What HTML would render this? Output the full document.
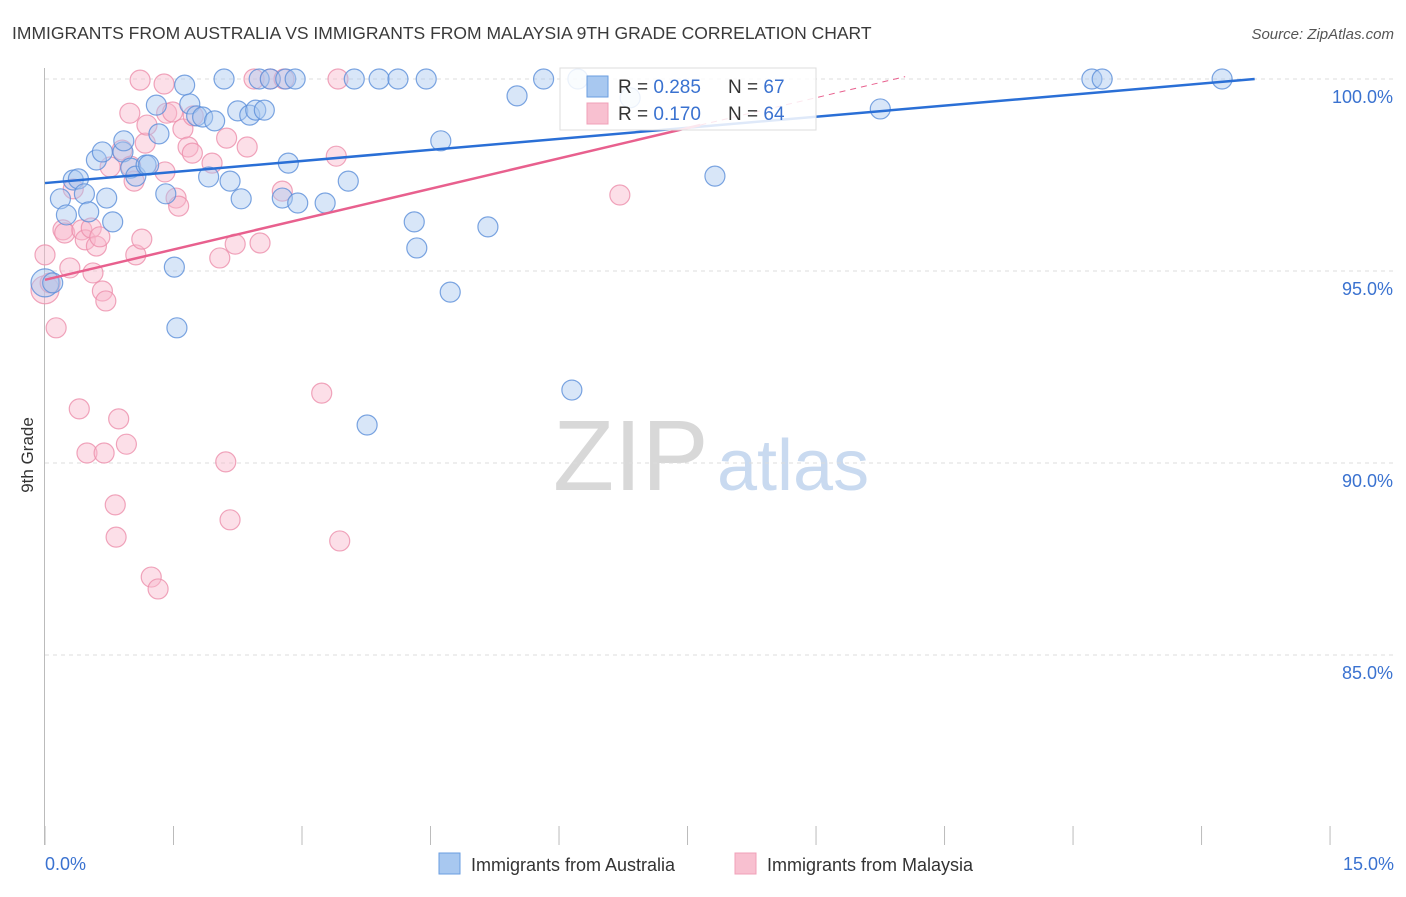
<!DOCTYPE html>
<html><head><meta charset="utf-8"><style>
body{margin:0;background:#fff;font-family:"Liberation Sans",sans-serif;}
svg text{font-family:"Liberation Sans",sans-serif;}
</style></head><body>
<svg id="chart" width="1406" height="892" xmlns="http://www.w3.org/2000/svg">
<text x="12" y="39" font-size="17.5" fill="#3a3a3a">IMMIGRANTS FROM AUSTRALIA VS IMMIGRANTS FROM MALAYSIA 9TH GRADE CORRELATION CHART</text>
<text x="1394" y="39" font-size="15" fill="#555" text-anchor="end" font-style="italic">Source: ZipAtlas.com</text>
<g>
<text x="553" y="490" font-size="100" fill="#d8d8d8" font-family="Liberation Serif, serif">ZIP</text>
<text x="717" y="490" font-size="72" fill="#c9daf0">atlas</text>
</g>
<g id="grid"></g>
<g id="axes"></g>
<g id="pts"></g>
<g id="lines"></g>
<text transform="translate(33,455) rotate(-90)" font-size="17" fill="#333" text-anchor="middle">9th Grade</text>
<g>
<rect x="560" y="68" width="256" height="62" fill="#fff" fill-opacity="0.85" stroke="#ddd"/>
<rect x="587" y="76" width="21" height="21" fill="#a8c8f0" stroke="#6a9ee0"/>
<rect x="587" y="103" width="21" height="21" fill="#f8c0d0" stroke="#f0a0b8"/>
<text x="618" y="93" font-size="19" fill="#333">R = <tspan fill="#3a72d0">0.285</tspan><tspan x="728">N = </tspan><tspan fill="#3a72d0">67</tspan></text>
<text x="618" y="120" font-size="19" fill="#333">R = <tspan fill="#3a72d0"> 0.170</tspan><tspan x="728">N = </tspan><tspan fill="#3a72d0">64</tspan></text>
</g>
<g>
<rect x="439" y="853" width="21" height="21" fill="#a8c8f0" stroke="#6a9ee0"/>
<text x="471" y="871" font-size="18" fill="#333">Immigrants from Australia</text>
<rect x="735" y="853" width="21" height="21" fill="#f8c0d0" stroke="#f0a0b8"/>
<text x="767" y="871" font-size="18" fill="#333">Immigrants from Malaysia</text>
</g>
</svg>
<script>
const yTicks=[100,95,90,85];
const xTickLabels=["0.0%","15.0%"];
const blueX=[0.00,0.09,0.18,0.25,0.33,0.39,0.46,0.51,0.60,0.67,0.72,0.79,0.91,0.92,1.00,1.06,1.18,1.21,1.30,1.33,1.41,1.51,1.54,1.63,1.69,1.77,1.84,1.91,1.98,2.09,2.16,2.25,2.29,2.39,2.46,2.50,2.56,2.63,2.77,2.81,2.84,2.92,2.95,3.27,3.54,3.61,3.76,3.90,4.12,4.31,4.34,4.45,4.62,4.73,5.17,5.51,5.82,6.15,6.22,6.83,7.82,9.75,12.22,12.34,13.74];
const blueY=[94.69,94.69,96.88,96.46,97.37,97.40,97.01,96.54,97.89,98.10,96.90,96.28,98.10,98.39,97.68,97.47,97.76,97.76,99.32,98.57,97.01,95.10,93.52,99.84,99.35,99.04,99.01,97.45,98.91,100,97.34,99.17,96.88,99.06,99.19,100,99.19,100,96.90,100,97.81,100,96.77,96.77,97.34,100,90.99,100,100,96.28,95.60,100,98.39,94.45,96.15,99.56,100,91.90,100,99.51,97.47,99.22,100,100,100];
const pinkX=[0.00,0.00,0.06,0.13,0.21,0.23,0.29,0.33,0.40,0.43,0.47,0.49,0.54,0.56,0.60,0.64,0.67,0.69,0.71,0.76,0.82,0.83,0.86,0.90,0.95,0.99,1.00,1.04,1.11,1.06,1.13,1.17,1.19,1.24,1.32,1.39,1.40,1.42,1.49,1.53,1.56,1.61,1.67,1.72,1.73,1.95,2.04,2.11,2.12,2.16,2.22,2.36,2.44,2.51,2.63,2.77,2.79,3.23,3.40,3.42,3.44,6.71];
const pinkY=[94.51,95.42,94.69,93.52,96.07,95.99,95.08,97.14,91.41,96.07,95.81,90.26,96.12,94.95,95.65,95.89,94.48,90.26,94.22,97.71,88.91,88.07,91.15,98.15,90.49,99.11,97.73,97.34,99.97,95.42,95.83,98.33,98.80,87.03,86.72,99.87,97.58,99.11,99.14,96.90,96.69,98.70,98.23,98.07,99.04,97.81,95.34,90.03,98.46,88.52,95.70,98.23,100,95.73,100,97.08,100,91.82,97.99,100,87.97,96.98];
const blueFit=[97.29,0.192], pinkFit=[94.77,0.527];
const NS="http://www.w3.org/2000/svg";
const sx=v=>45+v*85.67, sy=v=>79+(100-v)*38.4;
function mk(t,a,p){const e=document.createElementNS(NS,t);for(const k in a)e.setAttribute(k,a[k]);p.appendChild(e);return e;}
const grid=document.getElementById('grid'),axes=document.getElementById('axes');
yTicks.forEach(t=>{
 const l=mk('line',{x1:45,x2:1394,y1:sy(t),y2:sy(t),stroke:'#dcdcdc','stroke-dasharray':'4,4'},grid);
 
 
 const tx=mk('text',{x:1393,y:sy(t)+24,'font-size':18,fill:'#3a72d0','text-anchor':'end'},grid);
 tx.textContent=t.toFixed(1)+'%';
 
 
});
const ax=mk('line',{x1:44.5,x2:44.5,y1:68,y2:845,stroke:'#bbb'},axes);


for(let i=0;i<=10;i++){
 const tk=mk('line',{x1:sx(i*1.5),x2:sx(i*1.5),y1:826,y2:845,stroke:'#bbb'},axes);
 
 
}
[[0,xTickLabels[0],'start',45],[15,xTickLabels[1],'end',1394]].forEach(([v,s,a,x])=>{
 const t=mk('text',{x:x,y:870,'font-size':18,fill:'#3a72d0','text-anchor':a},axes);t.textContent=s;
 
 
});
const pts=document.getElementById('pts');
function draw(X,Y,fill,stroke,name){
 X.forEach((x,i)=>{
  const r=(i===0&&x===0)?14:10;
  const c=mk('circle',{cx:sx(x),cy:sy(Y[i]),r:r,fill:fill,'fill-opacity':0.45,stroke:stroke,'stroke-width':1.2,'stroke-opacity':0.8},pts);
  
  
 });
}
draw(pinkX,pinkY,'#f8b8cb','#ec8fab','malaysia-point');
draw(blueX,blueY,'#a8c8f0','#5b8fd9','australia-point');
const lines=document.getElementById('lines');
const bl=mk('line',{x1:sx(0),y1:sy(blueFit[0]),x2:sx(14.12),y2:sy(blueFit[0]+blueFit[1]*14.12),stroke:'#2a6fd6','stroke-width':2.5},lines);


const pl=mk('line',{x1:sx(0),y1:sy(pinkFit[0]),x2:sx(7.65),y2:sy(pinkFit[0]+pinkFit[1]*7.65),stroke:'#e8608e','stroke-width':2.5},lines);


const pd=mk('line',{x1:sx(7.65),y1:sy(pinkFit[0]+pinkFit[1]*7.65),x2:sx(10.04),y2:sy(pinkFit[0]+pinkFit[1]*10.04),stroke:'#e8608e','stroke-width':1,'stroke-dasharray':'6,5'},lines);


</script>
</body></html>
